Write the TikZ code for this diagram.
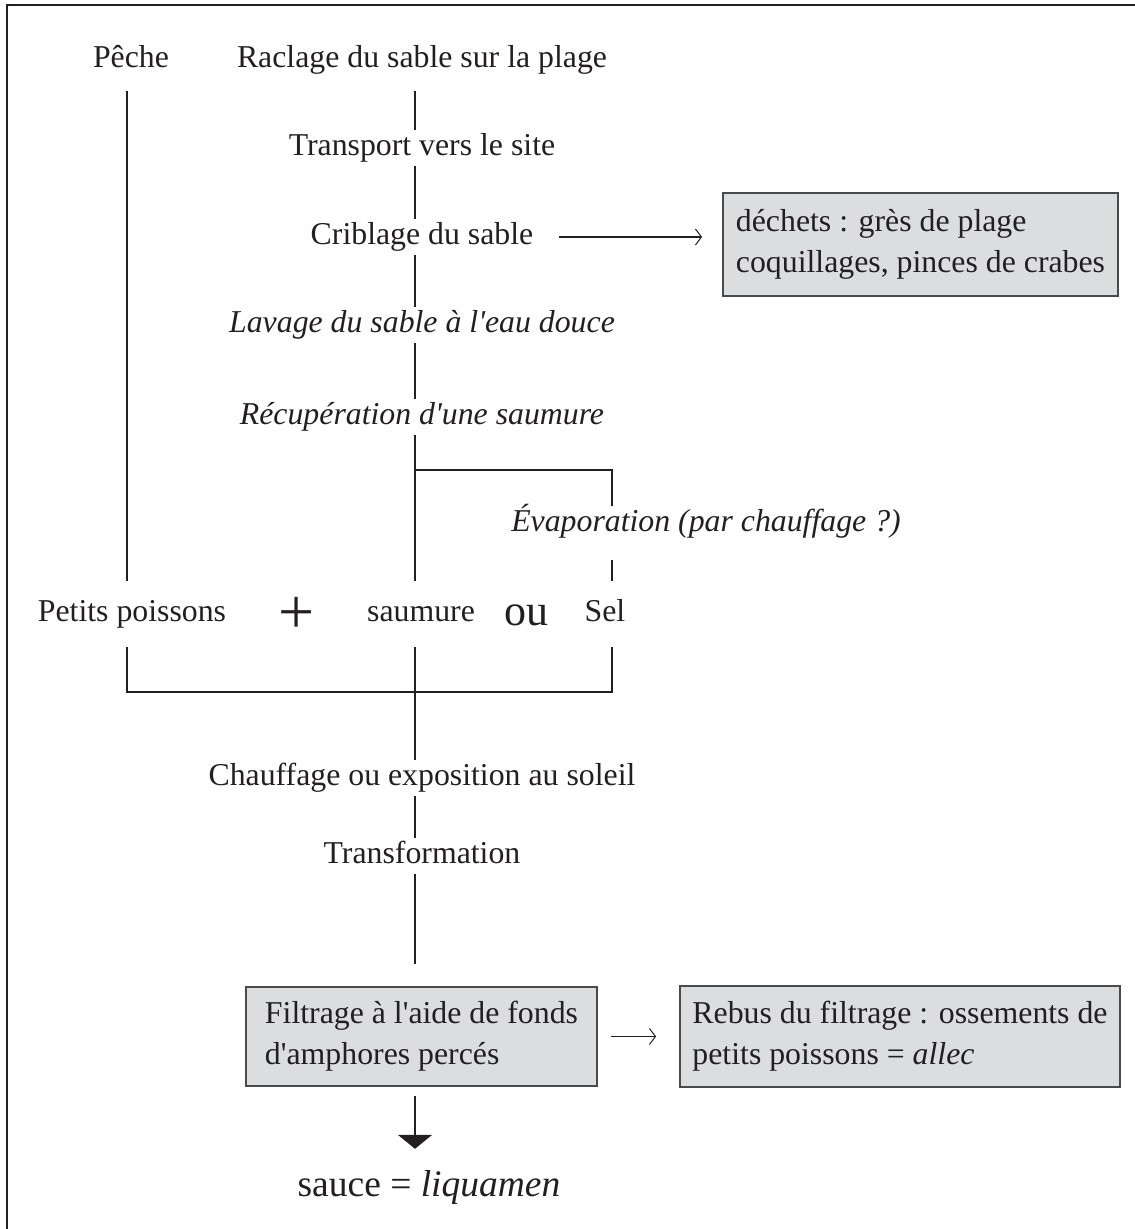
\documentclass[tikz,border=0pt]{standalone}
\usepackage{fontspec}
\setmainfont{Liberation Serif}[Ligatures=TeXOff]
\usetikzlibrary{arrows.meta}
\definecolor{ink}{HTML}{231F20}
\definecolor{boxfill}{HTML}{DCDDDE}
\definecolor{boxline}{HTML}{4A4A4A}
\tikzset{
  txt/.style={font=\fontsize{31.8}{41}\selectfont, text=ink, inner xsep=0pt, inner ysep=3pt, text height=22pt, text depth=7pt},
  toptxt/.style={txt, inner ysep=16pt},
  rowtxt/.style={txt, inner ysep=18pt},
  greybox/.style={draw=boxline, fill=boxfill, line width=1.8pt, font=\fontsize{31.8}{41}\selectfont, text=ink, align=left, inner xsep=0pt, inner ysep=0pt},
  ln/.style={draw=ink, line width=1.3pt},
  barb/.style={ln, -{Straight Barb[length=6pt,width=16pt,line width=1pt]}},
  bigarrow/.style={draw=ink, line width=2pt, -{Triangle[length=14pt,width=34pt]}},
}
\begin{document}
\begin{tikzpicture}[x=1pt,y=-1pt]
\useasboundingbox (0,0) rectangle (1135,1229);
% frame
\draw[draw=ink, line width=2pt] (1135,5) -- (7,5) -- (7,1229);
% guide coordinates
\coordinate (sp) at (415,0);
\coordinate (lx) at (127,0);
\coordinate (rx) at (612,0);
\coordinate (br) at (415,470);
\coordinate (jn) at (415,692);
% nodes
\node[toptxt] (peche) at (131,60) {Pêche};
\node[toptxt] (raclage) at (422,60) {Raclage du sable sur la plage};
\node[txt] (transport) at (422,148) {Transport vers le site};
\node[txt] (criblage) at (422,237) {Criblage du sable};
\node[txt] (lavage) at (422,325) {\itshape Lavage du sable à l'eau douce};
\node[txt] (recup) at (422,417) {\itshape Récupération d'une saumure};
\node[txt] (evap) at (706,524) {\itshape Évaporation (par chauffage ?)};
\node[rowtxt] (petits) at (132,614) {Petits poissons};
\node[txt, font=\fontsize{64}{64}\selectfont, text height=, text depth=] (plus) at (297,615) {+};
\node[rowtxt] (saumure) at (421,614) {saumure};
\node[txt, font=\fontsize{44}{44}\selectfont, text height=, text depth=] (ou) at (526,615) {ou};
\node[rowtxt] (sel) at (605,614) {Sel};
\node[txt] (chauffage) at (422,778) {Chauffage ou exposition au soleil};
\node[txt] (transfo) at (422,856) {Transformation};
\node[greybox, minimum width=395pt, minimum height=103pt] (dechets) at (920.5,244.5) {déchets : grès de plage\\coquillages, pinces de crabes};
\node[greybox, minimum width=351pt, minimum height=99pt] (filtre) at (421.5,1036.5) {Filtrage à l'aide de fonds\\d'amphores percés};
\node[greybox, minimum width=440pt, minimum height=101pt] (rebus) at (900,1036.5) {Rebus du filtrage : ossements de\\petits poissons = \textit{allec}};
\node[txt, font=\fontsize{37.5}{44}\selectfont, text height=26pt, text depth=8pt] (sauce) at (429,1187) {sauce = \textit{liquamen}};
% connectors
\draw[ln] (raclage.south -| sp) -- (transport.north -| sp);
\draw[ln] (transport.south -| sp) -- (criblage.north -| sp);
\draw[ln] (criblage.south -| sp) -- (lavage.north -| sp);
\draw[ln] (lavage.south -| sp) -- (recup.north -| sp);
\draw[ln] (recup.south -| sp) -- (saumure.north -| sp);
\draw[ln] (br) -| (evap.north -| rx);
\draw[ln, shorten <=18pt] (evap.south -| rx) -- (sel.north -| rx);
\draw[ln] (peche.south -| lx) -- (petits.north -| lx);
\draw[ln] (petits.south -| lx) |- (jn) -| (sel.south -| rx);
\draw[ln] (saumure.south -| sp) -- (chauffage.north -| sp);
\draw[ln] (chauffage.south -| sp) -- (transfo.north -| sp);
\draw[ln, shorten >=22pt] (transfo.south -| sp) -- (filtre.north -| sp);
\draw[barb, shorten <=26pt, shorten >=20pt] (criblage.east) -- (criblage.east -| dechets.west);
\draw[barb, shorten <=13pt, shorten >=23pt] (filtre.east) -- (filtre.east -| rebus.west);
\draw[bigarrow, shorten <=9pt, shorten >=18pt] (filtre.south -| sp) -- (sauce.north -| sp);
\end{tikzpicture}
\end{document}
